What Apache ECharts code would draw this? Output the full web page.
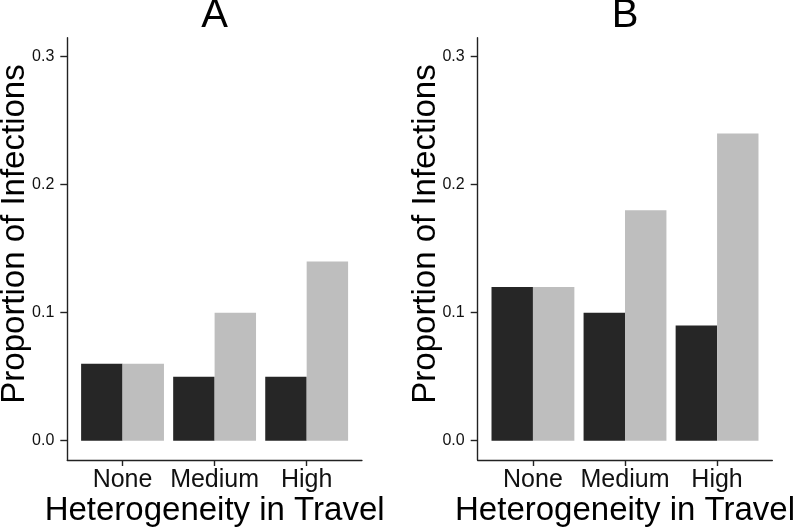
<!DOCTYPE html>
<html>
<head>
<meta charset="utf-8">
<script src="https://cdn.jsdelivr.net/npm/echarts@6/dist/echarts.min.js"></script>
<style>html,body{margin:0;padding:0;background:#fff;}#c{width:800px;height:529px;}</style>
</head>
<body>
<div id="c"></div>
<script>
var categories = ['None', 'Medium', 'High'];
var panelTitles = ['A', 'B'];
var yTicks = [0, 0.1, 0.2, 0.3];
var panelA_dark = [0.06, 0.05, 0.05];
var panelA_grey = [0.06, 0.10, 0.14];
var panelB_dark = [0.12, 0.10, 0.09];
var panelB_grey = [0.12, 0.18, 0.24];

var FONT = '"Liberation Sans", Arial, Helvetica, sans-serif';
var DARK = '#262626', GREY = '#bebebe', AX = '#222';

function pts(vals) { return vals.map(function (v, i) { return [i + 1, v]; }); }

var grids = [
  { left: 67.3, top: 37.7, width: 294.6, height: 422.3 },
  { left: 477.7, top: 37.7, width: 294.6, height: 422.3 }
];

function xAxis(gi) {
  return {
    type: 'value', gridIndex: gi, min: 0.4, max: 3.6,
    splitLine: { show: false },
    axisLine: { show: true, onZero: false, lineStyle: { color: AX, width: 1.4 } },
    axisTick: { show: true, length: 6, customValues: [1, 2, 3], lineStyle: { color: AX, width: 1.4 } },
    axisLabel: {
      customValues: [1, 2, 3], margin: 8, fontSize: 25, fontFamily: FONT, color: '#111',
      formatter: function (v) { return categories[Math.round(v) - 1] || ''; }
    }
  };
}
function yAxis(gi) {
  return {
    type: 'value', gridIndex: gi, min: -0.0151, max: 0.3148,
    splitLine: { show: false },
    axisLine: { show: true, onZero: false, lineStyle: { color: AX, width: 1.4 } },
    axisTick: { show: true, length: 7, customValues: yTicks, lineStyle: { color: AX, width: 1.4 } },
    axisLabel: {
      customValues: yTicks, margin: 13, fontSize: 16, fontFamily: FONT, color: '#111',
      formatter: function (v) { return v.toFixed(1); }
    }
  };
}
function bar(gi, data, color) {
  return {
    type: 'bar', xAxisIndex: gi, yAxisIndex: gi, data: pts(data),
    barCategoryGap: '10%', barGap: '0%',
    itemStyle: { color: color }, silent: true, animation: false
  };
}

var graphics = [];
[0, 1].forEach(function (gi) {
  var g = grids[gi];
  var cx = g.left + g.width / 2;
  graphics.push({ type: 'text', x: cx, y: 16, style: { text: panelTitles[gi], font: '40px ' + FONT, fill: '#000', textAlign: 'center', textVerticalAlign: 'middle' } });
  graphics.push({ type: 'text', x: cx, y: 511, style: { text: 'Heterogeneity in Travel', font: '33px ' + FONT, fill: '#000', textAlign: 'center', textVerticalAlign: 'middle' } });
  graphics.push({ type: 'text', x: g.left - 52, y: 234, rotation: Math.PI / 2, style: { text: 'Proportion of Infections', font: '33px ' + FONT, fill: '#000', textAlign: 'center', textVerticalAlign: 'middle' } });
});

var chart = echarts.init(document.getElementById('c'), null, { renderer: 'canvas' });
chart.setOption({
  animation: false,
  backgroundColor: '#fff',
  grid: grids,
  xAxis: [xAxis(0), xAxis(1)],
  yAxis: [yAxis(0), yAxis(1)],
  series: [
    bar(0, panelA_dark, DARK), bar(0, panelA_grey, GREY),
    bar(1, panelB_dark, DARK), bar(1, panelB_grey, GREY)
  ],
  graphic: graphics
});
</script>
</body>
</html>
